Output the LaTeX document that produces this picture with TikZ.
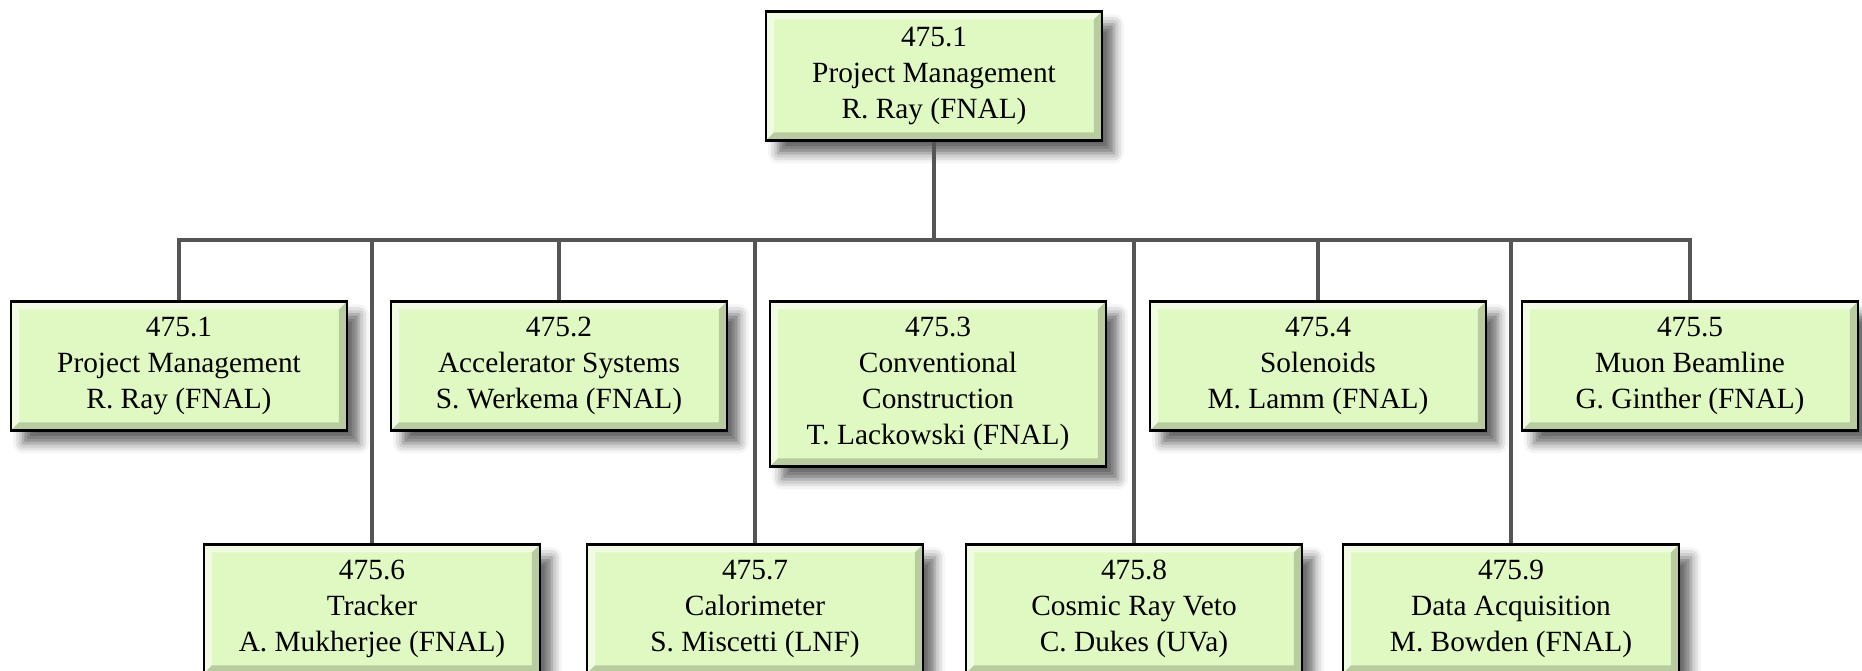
\documentclass[tikz,border=0pt]{standalone}
\usepackage{fontspec}
\setmainfont{Liberation Serif}
\usetikzlibrary{shadows.blur}
\definecolor{wbsgreen}{RGB}{224,248,194}
\definecolor{wbsline}{RGB}{85,85,85}
\tikzstyle{wbs}=[draw=black,line width=1.5pt,fill=wbsgreen,align=center,anchor=north,
    minimum width=6.72cm,minimum height=2.58cm,inner sep=0pt,
    font=\fontsize{16.7pt}{20.4pt}\selectfont,
    blur shadow={shadow xshift=0.24cm,shadow yshift=-0.26cm,shadow blur radius=0.2cm,shadow opacity=60},
    path picture={
        \fill[white,opacity=.55] (path picture bounding box.north west) -- (path picture bounding box.north east)
            -- ++(-0.16cm,-0.16cm) -| ([xshift=0.16cm,yshift=0.16cm]path picture bounding box.south west)
            -- (path picture bounding box.south west) -- cycle;
        \fill[black!35!wbsgreen,opacity=.5] (path picture bounding box.south east) -- (path picture bounding box.south west)
            -- ++(0.16cm,0.16cm) -| ([xshift=-0.16cm,yshift=-0.16cm]path picture bounding box.north east)
            -- (path picture bounding box.north east) -- cycle;
    }]
\tikzstyle{link}=[draw=wbsline,line width=2.8pt]

\begin{document}
\begin{tikzpicture}[x=0.02cm,y=-0.02cm]
    \useasboundingbox (0,0) rectangle (1862,671);
    \node[wbs] (top) at (934,10) {475.1\\Project Management\\R. Ray (FNAL)};
    \node[wbs] (pm) at (179,300) {475.1\\Project Management\\R. Ray (FNAL)};
    \node[wbs] (acc) at (559,300) {475.2\\Accelerator Systems\\S. Werkema (FNAL)};
    \node[wbs,minimum height=3.3cm] (conv) at (938,300) {475.3\\Conventional\\Construction\\T. Lackowski (FNAL)};
    \node[wbs] (sol) at (1318,300) {475.4\\Solenoids\\M. Lamm (FNAL)};
    \node[wbs] (muon) at (1690,300) {475.5\\Muon Beamline\\G. Ginther (FNAL)};
    \node[wbs] (trk) at (372,543) {475.6\\Tracker\\A. Mukherjee (FNAL)};
    \node[wbs] (cal) at (755,543) {475.7\\Calorimeter\\S. Miscetti (LNF)};
    \node[wbs] (crv) at (1134,543) {475.8\\Cosmic Ray Veto\\C. Dukes (UVa)};
    \node[wbs] (daq) at (1511,543) {475.9\\Data Acquisition\\M. Bowden (FNAL)};
    \coordinate (bar) at (934,240);
    \draw[link] (top.south) -- (bar);
    \draw[link] (pm.north) |- (bar) -| (muon.north);
    \foreach \n in {acc,sol,trk,cal,crv,daq}
        \draw[link] (\n.north) -- (\n.north |- bar);
\end{tikzpicture}
\end{document}
